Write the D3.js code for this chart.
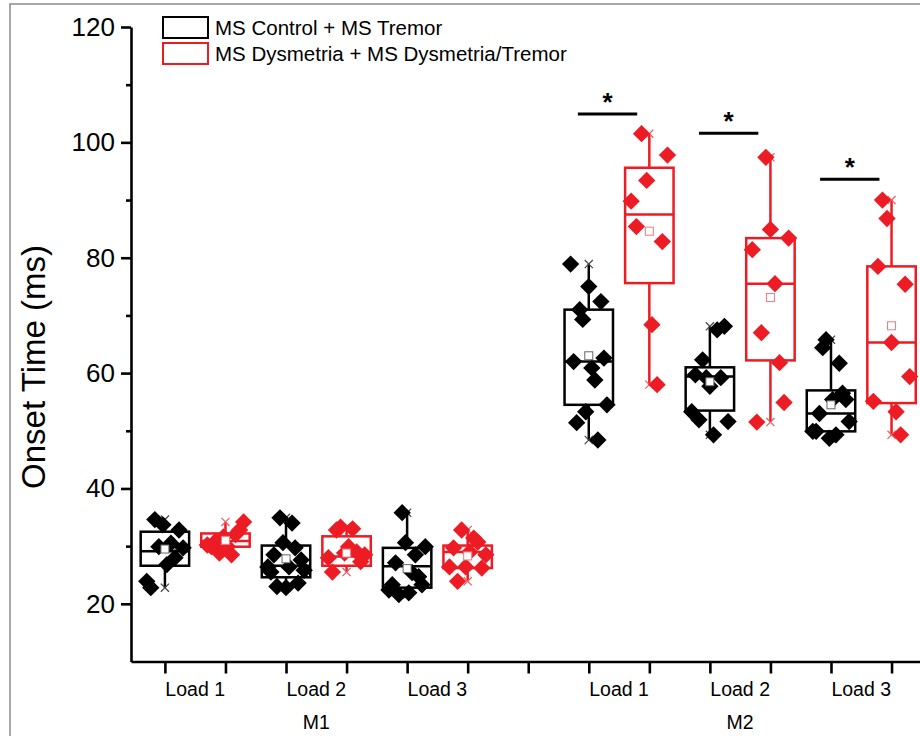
<!DOCTYPE html>
<html lang="en">
<head>
<meta charset="UTF-8">
<title>Onset Time box chart</title>
<script src="https://d3js.org/d3.v7.min.js"></script>
<style>
  body { margin: 0; background: #fff; }
  svg { display: block; font-family: Arial, "Liberation Sans", sans-serif; }
</style>
</head>
<body>
<script>
    // categories
    const muscles = ["M1", "M2"];
    const loads = ["Load 1", "Load 2", "Load 3"];
    const groups = ["MS Control + MS Tremor", "MS Dysmetria + MS Dysmetria/Tremor"];

    // raw points, one list per box: M1 L1, M1 L2, M1 L3, M2 L1, M2 L2, M2 L3
    const ctrlPoints = [
        [23.9, 22.8, 34.6, 29.9, 33.7, 26.8, 30.5, 28.0, 32.8, 29.7],
        [26.4, 25.5, 28.5, 23.0, 34.9, 30.6, 22.8, 26.4, 34.0, 29.7, 23.6, 27.6, 25.8],
        [22.4, 23.3, 27.1, 21.6, 35.8, 30.6, 21.9, 25.4, 28.5, 24.7, 23.3, 29.9],
        [78.9, 62.0, 51.4, 71.0, 69.3, 53.3, 75.0, 60.9, 58.8, 48.4, 72.4, 62.6, 54.5],
        [53.3, 59.7, 51.9, 62.3, 59.2, 57.7, 49.3, 67.5, 59.2, 68.1, 51.6],
        [49.9, 49.9, 53.0, 64.4, 65.8, 48.7, 55.4, 49.3, 61.7, 56.5, 55.4, 51.6]
    ];
    const dysPoints = [
        [30.2, 29.9, 30.8, 28.8, 31.6, 29.9, 28.5, 32.0, 32.8, 34.2],
        [28.0, 25.5, 32.8, 33.3, 28.8, 29.9, 33.0, 29.0, 27.3, 28.5],
        [26.4, 29.7, 23.9, 32.8, 26.4, 29.0, 31.4, 30.7, 26.2, 28.5],
        [89.8, 85.4, 101.5, 93.4, 68.4, 58.0, 82.8, 97.8],
        [81.4, 51.5, 67.0, 97.4, 84.9, 75.5, 61.8, 54.9, 83.4],
        [55.1, 78.5, 90.0, 86.8, 65.3, 53.3, 49.3, 75.4, 59.4]
    ];

    // box statistics
    const ctrlQ1 = [26.6, 24.6, 22.8, 54.5, 53.5, 49.9];
    const ctrlMedian = [29.1, 26.6, 26.5, 62.0, 59.4, 53.0];
    const ctrlQ3 = [32.5, 30.1, 29.7, 71.0, 61.0, 57.0];
    const ctrlMean = [29.5, 27.8, 26.1, 63.0, 58.5, 54.5];
    const dysQ1 = [29.9, 26.6, 26.2, 75.6, 62.2, 54.8];
    const dysMedian = [30.9, 28.2, 29.0, 87.5, 75.5, 65.3];
    const dysQ3 = [32.2, 31.7, 30.1, 95.6, 83.4, 78.5];
    const dysMean = [31.0, 28.8, 28.3, 84.6, 73.1, 68.2];

    // significance marks (load slot, height in ms)
    const sigSlots = [3, 4, 5];
    const sigLevels = [104.9, 101.6, 93.6];

    const yTicks = [20, 40, 60, 80, 100, 120];
    const yMinorTicks = [30, 50, 70, 90, 110];

    const width = 920, height = 736;
    const red = "#ed1c24";
    const colors = ["#000", red];

    const svg = d3.select("body").append("svg")
        .attr("width", width)
        .attr("height", height);

    // figure frame
    svg.append("rect")
        .attr("x", 10).attr("y", 4)
        .attr("width", width).attr("height", height)
        .attr("fill", "none").attr("stroke", "#8a8a8a").attr("stroke-width", 1.5);

    const x = d3.scaleLinear().domain([-0.56, 12.47]).range([131, 920]);
    const y = d3.scaleLinear().domain([10, 120]).range([661.5, 27]);

    // slot index -> position of control box (dysmetria box is next one)
    const slotPos = s => s * 2 + (s >= 3 ? 1 : 0);

    // build the box list
    const boxes = [];
    for (let s = 0; s < 6; s++) {
        boxes.push({ pos: slotPos(s), g: 0, pts: ctrlPoints[s],
            q1: ctrlQ1[s], med: ctrlMedian[s], q3: ctrlQ3[s], mean: ctrlMean[s] });
        boxes.push({ pos: slotPos(s) + 1, g: 1, pts: dysPoints[s],
            q1: dysQ1[s], med: dysMedian[s], q3: dysQ3[s], mean: dysMean[s] });
    }

    // axes
    const yAxis = svg.append("g")
        .attr("transform", "translate(131,0)")
        .call(d3.axisLeft(y).tickValues(yTicks).tickSize(10).tickSizeOuter(0).tickPadding(6));
    svg.append("g")
        .attr("transform", "translate(131,0)")
        .call(d3.axisLeft(y).tickValues(yMinorTicks).tickSize(5).tickSizeOuter(0).tickFormat(""))
        .select(".domain").remove();
    svg.append("g")
        .attr("transform", "translate(0," + y(10) + ")")
        .call(d3.axisBottom(x).tickValues(d3.range(13)).tickSize(12).tickSizeOuter(0).tickFormat(""));

    svg.selectAll(".domain, .tick line")
        .attr("stroke", "#000").attr("stroke-width", 2.6);
    yAxis.selectAll("text")
        .style("font-size", "26px").attr("fill", "#000");

    // category labels
    for (let s = 0; s < 6; s++) {
        svg.append("text")
            .attr("x", x(slotPos(s) + 0.5)).attr("y", 696)
            .attr("text-anchor", "middle")
            .style("font-size", "19.5px")
            .text(loads[s % 3]);
    }
    muscles.forEach((m, i) => {
        svg.append("text")
            .attr("x", x(slotPos(i * 3 + 1) + 0.5)).attr("y", 729)
            .attr("text-anchor", "middle")
            .style("font-size", "19.5px")
            .text(m);
    });

    // y axis title
    svg.append("text")
        .attr("transform", "translate(45,367) rotate(-90)")
        .attr("text-anchor", "middle")
        .style("font-size", "33px")
        .text("Onset Time (ms)");

    // boxes
    const half = 0.4;
    const bg = svg.selectAll(".box").data(boxes).enter().append("g").attr("class", "box");

    bg.append("line")
        .attr("x1", d => x(d.pos)).attr("x2", d => x(d.pos))
        .attr("y1", d => y(d3.max(d.pts))).attr("y2", d => y(d.q3))
        .attr("stroke", d => colors[d.g]).attr("stroke-width", 2.5);
    bg.append("line")
        .attr("x1", d => x(d.pos)).attr("x2", d => x(d.pos))
        .attr("y1", d => y(d.q1)).attr("y2", d => y(d3.min(d.pts)))
        .attr("stroke", d => colors[d.g]).attr("stroke-width", 2.5);
    bg.append("rect")
        .attr("x", d => x(d.pos - half))
        .attr("width", d => x(d.pos + half) - x(d.pos - half))
        .attr("y", d => y(d.q3))
        .attr("height", d => y(d.q1) - y(d.q3))
        .attr("fill", "none")
        .attr("stroke", d => colors[d.g]).attr("stroke-width", 2.5);
    bg.append("line")
        .attr("x1", d => x(d.pos - half)).attr("x2", d => x(d.pos + half))
        .attr("y1", d => y(d.med)).attr("y2", d => y(d.med))
        .attr("stroke", d => colors[d.g]).attr("stroke-width", 2.5);

    // min / max markers
    const cross = d3.symbol(d3.symbolTimes, 45);
    bg.selectAll(".mm")
        .data(d => [d3.min(d.pts), d3.max(d.pts)].map(v => ({ v: v, d: d })))
        .enter().append("path")
        .attr("d", cross)
        .attr("transform", e => "translate(" + x(e.d.pos) + "," + y(e.v) + ")")
        .attr("fill", "none")
        .attr("stroke", e => e.d.g ? "#f05a60" : "#444")
        .attr("stroke-width", 1.2);

    // data points, spread across the box in listed order
    const spread = 0.3;
    const diamond = d3.symbol(d3.symbolSquare, 150);
    bg.selectAll(".pt")
        .data(d => d.pts.map((v, i) => ({
            v: v, d: d,
            off: d.pts.length > 1 ? (i / (d.pts.length - 1) - 0.5) * 2 * spread : 0
        })))
        .enter().append("path")
        .attr("d", diamond)
        .attr("transform", e => "translate(" + x(e.d.pos + e.off) + "," + y(e.v) + ") rotate(45)")
        .attr("fill", e => colors[e.d.g]);

    // mean squares
    bg.append("rect")
        .attr("x", d => x(d.pos) - 4)
        .attr("y", d => y(d.mean) - 4)
        .attr("width", 8).attr("height", 8)
        .attr("fill", "#fff")
        .attr("stroke", d => d.g ? "#f07a7e" : "#666")
        .attr("stroke-width", 1);

    // significance bars
    sigSlots.forEach((s, i) => {
        const p = slotPos(s);
        svg.append("line")
            .attr("x1", x(p - 0.18)).attr("x2", x(p + 0.8))
            .attr("y1", y(sigLevels[i])).attr("y2", y(sigLevels[i]))
            .attr("stroke", "#000").attr("stroke-width", 3);
        svg.append("text")
            .attr("x", x(p + 0.31)).attr("y", y(sigLevels[i]) - 3)
            .attr("text-anchor", "middle")
            .style("font-size", "26px").style("font-weight", "bold")
            .text("*");
    });

    // legend
    groups.forEach((name, i) => {
        svg.append("rect")
            .attr("x", 163).attr("y", 17 + i * 26)
            .attr("width", 45).attr("height", 21)
            .attr("fill", "none")
            .attr("stroke", colors[i]).attr("stroke-width", 2);
        svg.append("text")
            .attr("x", 215).attr("y", 35 + i * 26)
            .style("font-size", "20.5px")
            .text(name);
    });
</script>
</body>
</html>
